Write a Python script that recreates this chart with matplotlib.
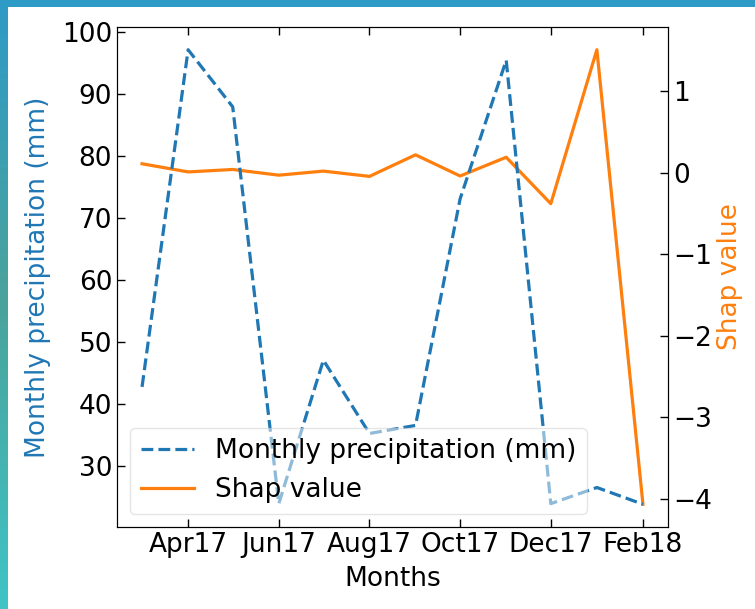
import numpy as np
import pandas as pd
import matplotlib
matplotlib.use('Agg')
import matplotlib.pyplot as plt
import matplotlib.dates as mdates
from matplotlib.colors import LinearSegmentedColormap

# monthly data, Mar 2017 - Feb 2018
months = pd.date_range('2017-03-01', '2018-02-01', freq='MS')
precip = [42.8, 97.1, 87.9, 24.0, 47.1, 35.3, 36.6, 73.1, 95.4, 24.0, 26.6, 23.9]
shap = [0.11, 0.01, 0.04, -0.03, 0.02, -0.045, 0.22, -0.04, 0.19, -0.38, 1.51, -4.07]

precip_label = 'Monthly precipitation (mm)'
shap_label = 'Shap value'

plt.rcParams['font.family'] = 'DejaVu Sans'
plt.rcParams['font.size'] = 19
plt.rcParams['xtick.direction'] = 'in'
plt.rcParams['ytick.direction'] = 'in'
plt.rcParams['xtick.top'] = True

fig = plt.figure(figsize=(7.55, 6.09), dpi=100)

# slide-like coloured strips along the top and left edge
grad = LinearSegmentedColormap.from_list('edge', ['#2e9bc6', '#4aa39c', '#3fc4c6'])
strip = fig.add_axes([0, 0, 7 / 755, 1])
strip.imshow(np.linspace(0, 1, 256).reshape(-1, 1), aspect='auto', cmap=grad)
strip.axis('off')
top = fig.add_axes([0, 1 - 7 / 609, 1, 7 / 609])
top.set_facecolor('#2e9bc6')
top.set_xticks([]); top.set_yticks([])
for s in top.spines.values():
	s.set_visible(False)

ax = fig.add_axes([117 / 755, 82 / 609, 551 / 755, 500 / 609])
l1, = ax.plot(months, precip, '--', color='#1f77b4', lw=2.3, label=precip_label)
ax.set_ylabel(precip_label, color='#1f77b4', labelpad=8)
ax.set_xlabel('Months', labelpad=6)
ax.xaxis.set_major_locator(mdates.MonthLocator(bymonth=[2, 4, 6, 8, 10, 12]))
ax.xaxis.set_major_formatter(mdates.DateFormatter('%b%y'))
ax.tick_params(length=6, width=1)

ax2 = ax.twinx()
l2, = ax2.plot(months, shap, '-', color='#ff7f0e', lw=2.3, label=shap_label)
ax2.set_ylabel(shap_label, color='#ff7f0e')
ax2.tick_params(length=6, width=1)

ax.legend(handles=[l1, l2], loc='lower left', framealpha=0.5, fontsize=19)
ax.set_zorder(ax2.get_zorder() + 1)
ax.patch.set_visible(False)

fig.savefig('out.png', dpi=100)
